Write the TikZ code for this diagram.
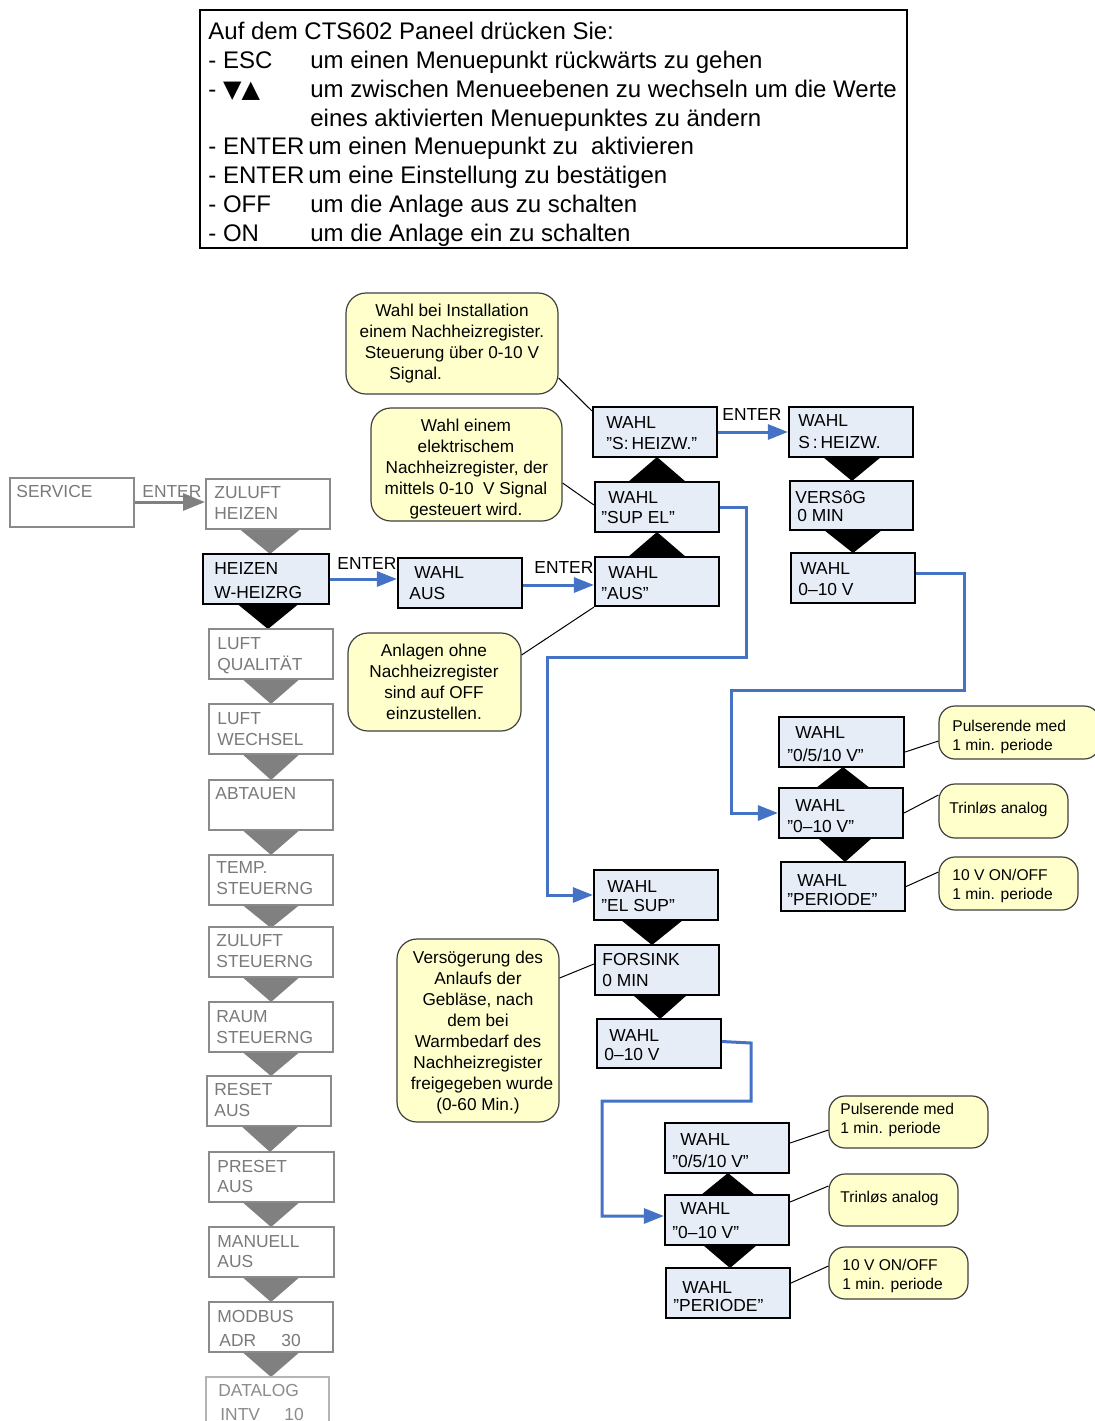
\documentclass[tikz,border=0pt]{standalone}
\usepackage{fontspec}
\setmainfont{Liberation Sans}
\newfontfamily\symfont{DejaVu Sans}
\usetikzlibrary{arrows.meta,fit}

\definecolor{boxblue}{HTML}{E6EDF7}
\definecolor{linkblue}{HTML}{4472C4}
\definecolor{notefill}{HTML}{FFFFCC}
\definecolor{greyline}{HTML}{8A8A8A}
\definecolor{greytext}{HTML}{7A7A7A}
\definecolor{greytri}{HTML}{808080}
\definecolor{paleline}{HTML}{B4B4B4}
\definecolor{paletext}{HTML}{8C8C8C}

\tikzset{
  menufont/.style={font=\fontsize{8.7}{10}\selectfont},
  notefont/.style={font=\fontsize{8.6}{10}\selectfont},
  smallfont/.style={font=\fontsize{7.8}{9}\selectfont},
  headfont/.style={font=\fontsize{12}{14}\selectfont},
  greybox/.style={draw=greyline, line width=1pt, fill=white, inner sep=0pt},
  palebox/.style={draw=paleline, line width=0.9pt, fill=white, inner sep=0pt},
  activebox/.style={draw=black, line width=1.1pt, fill=boxblue, inner sep=0pt},
  notebox/.style={draw=black!75, line width=0.6pt, fill=notefill, rounded corners=10pt, inner sep=0pt},
  smallnote/.style={notebox, rounded corners=8pt},
  headbox/.style={draw=black, line width=1pt, fill=white, inner sep=0pt},
  txt/.style={anchor=base west, inner sep=0pt, menufont},
  greytxt/.style={txt, text=greytext},
  paletxt/.style={txt, text=paletext},
  notetxt/.style={anchor=base, inner sep=0pt, notefont},
  smalltxt/.style={anchor=base west, inner sep=0pt, smallfont},
  headtxt/.style={anchor=base west, inner sep=0pt, headfont},
  link/.style={draw=linkblue, line width=1.5pt, -{Triangle[length=10pt,width=7.5pt]}},
  greylink/.style={draw=greytri, line width=1.5pt, -{Triangle[length=11pt,width=8.5pt]}},
  leader/.style={draw=black, line width=0.5pt},
  greytri/.style={fill=greytri},
  blacktri/.style={fill=black},
}

% box from (x1,y1) to (x2,y2)
\newcommand\menubox[6]{\node[#6, fit={(#2,#3) (#4,#5)}] (#1) {};}
% two text lines inside a box: name, x, y, text, y, text, style
\newcommand\twolines[7]{%
  \node[#7] (#1-a) at (#2,#3) {#4};
  \node[#7] (#1-b) at (#2,#5) {#6};}
% two text lines with their own x: name, x1, y1, text1, x2, y2, text2
\newcommand\wahllines[7]{%
  \node[txt] (#1-a) at (#2,#3) {#4};
  \node[txt] (#1-b) at (#5,#6) {#7};}
% triangle: centre x, base y, apex y, half width
\newcommand\arrowtri[5]{\fill[#5] (#1-#4,#2) -- (#1+#4,#2) -- (#1,#3) -- cycle;}

\begin{document}
\begin{tikzpicture}[x=0.5pt,y=-0.5pt]
\useasboundingbox (0,0) rectangle (1095,1421);
\clip (0,0) rectangle (1095,1421);

% ---------- key legend ----------
\menubox{legend}{200}{10}{907}{248}{headbox}
\node[headtxt] (h1) at (208,39.6) {Auf dem CTS602 Paneel drücken Sie:};
\node[headtxt] (h2) at (208,68.6) {- ESC};
\node[headtxt] (h2b) at (310,68.6) {um einen Menuepunkt rückwärts zu gehen};
\node[headtxt] (h3) at (208,97.6) {- {\symfont\fontsize{12}{14}\selectfont ▼▲}};
\node[headtxt] (h3b) at (310,97.6) {um zwischen Menueebenen zu wechseln um die Werte};
\node[headtxt] (h4b) at (310,126.6) {eines aktivierten Menuepunktes zu ändern};
\node[headtxt] (h5) at (208,154.6) {- ENTER};
\node[headtxt] (h5b) at (308,154.6) {um einen Menuepunkt zu\ \ aktivieren};
\node[headtxt] (h6) at (208,183.6) {- ENTER};
\node[headtxt] (h6b) at (308,183.6) {um eine Einstellung zu bestätigen};
\node[headtxt] (h7) at (208,212.6) {- OFF};
\node[headtxt] (h7b) at (310,212.6) {um die Anlage aus zu schalten};
\node[headtxt] (h8) at (208,241.6) {- ON};
\node[headtxt] (h8b) at (310,241.6) {um die Anlage ein zu schalten};

% ---------- service menu column ----------
\arrowtri{270}{527}{554}{33}{greytri}
\arrowtri{268}{602}{629}{33}{blacktri}
\arrowtri{271}{677}{704}{31}{greytri}
\arrowtri{271}{752}{780}{31}{greytri}
\arrowtri{271}{828}{855}{31}{greytri}
\arrowtri{271}{903}{928}{31}{greytri}
\arrowtri{271}{975}{1002}{31}{greytri}
\arrowtri{271}{1050}{1076}{31}{greytri}
\arrowtri{270}{1124}{1152}{31}{greytri}
\arrowtri{271}{1200}{1227}{31}{greytri}
\arrowtri{271}{1275}{1302}{31}{greytri}
\arrowtri{271}{1350}{1377}{31}{greytri}

\menubox{srv}{10}{478}{134}{527}{greybox}
\node[greytxt] (srv-a) at (16,497) {SERVICE};
\menubox{zh}{206}{479}{330}{529}{greybox}
\twolines{zh}{214}{498}{ZULUFT}{519}{HEIZEN}{greytxt}
\menubox{hei}{203}{554}{329}{604}{activebox}
\twolines{hei}{214}{574}{HEIZEN}{598}{W-HEIZRG}{txt}
\menubox{lq}{209}{629}{333}{679}{greybox}
\twolines{lq}{217}{649}{LUFT}{670}{QUALITÄT}{greytxt}
\menubox{lw}{209}{704}{333}{754}{greybox}
\twolines{lw}{217}{724}{LUFT}{745}{WECHSEL}{greytxt}
\menubox{ab}{209}{780}{333}{830}{greybox}
\node[greytxt] (ab-a) at (215,799) {ABTAUEN};
\menubox{ts}{209}{855}{333}{905}{greybox}
\twolines{ts}{216}{873}{TEMP.}{894}{STEUERNG}{greytxt}
\menubox{zs}{209}{927}{333}{977}{greybox}
\twolines{zs}{216}{946}{ZULUFT}{967}{STEUERNG}{greytxt}
\menubox{rs}{209}{1002}{333}{1052}{greybox}
\twolines{rs}{216}{1022}{RAUM}{1043}{STEUERNG}{greytxt}
\menubox{re}{207}{1076}{331}{1126}{greybox}
\twolines{re}{214}{1095}{RESET}{1116}{AUS}{greytxt}
\menubox{pr}{209}{1152}{334}{1202}{greybox}
\twolines{pr}{217}{1172}{PRESET}{1192}{AUS}{greytxt}
\menubox{ma}{209}{1227}{334}{1277}{greybox}
\twolines{ma}{217}{1247}{MANUELL}{1267}{AUS}{greytxt}
\menubox{mo}{209}{1302}{333}{1352}{greybox}
\node[greytxt] (mo-a) at (217,1322) {MODBUS};
\node[greytxt] (mo-b) at (219,1346) {ADR};
\node[greytxt] (mo-c) at (281,1346) {30};
\menubox{da}{206}{1377}{329}{1445}{palebox}
\node[paletxt] (da-a) at (218,1396) {DATALOG};
\node[paletxt] (da-b) at (220,1420) {INTV};
\node[paletxt] (da-c) at (284,1420) {10};

\draw[greylink] (srv.east |- 0,502) -- (zh.west |- 0,502);
\node[greytxt] (ent0) at (142,497) {ENTER};

% ---------- heating register selection ----------
\arrowtri{657}{557}{532}{29}{blacktri}
\arrowtri{657}{482}{457}{29}{blacktri}
\arrowtri{852}{457}{481}{29}{blacktri}
\arrowtri{853}{530}{553}{29}{blacktri}

\menubox{wa}{398}{558}{522}{608}{activebox}
\wahllines{wa}{414}{578}{WAHL}{409}{599}{AUS}
\menubox{aus}{595}{557}{719}{606}{activebox}
\wahllines{aus}{608}{578}{WAHL}{601}{599}{”AUS”}
\menubox{sup}{595}{482}{719}{532}{activebox}
\wahllines{sup}{608}{503}{WAHL}{601}{523}{”SUP EL”}
\menubox{sh}{593}{407}{717}{457}{activebox}
\wahllines{sh}{606}{428}{WAHL}{606}{449}{”S:\,HEIZW.”}
\menubox{shw}{789}{407}{913}{457}{activebox}
\wahllines{shw}{798}{426}{WAHL}{798}{448}{S\,:\,HEIZW.}
\menubox{vg}{790}{481}{913}{530}{activebox}
\wahllines{vg}{795}{503}{VERSôG}{797}{521}{0 MIN}
\menubox{wv}{791}{553}{915}{603}{activebox}
\wahllines{wv}{800}{574}{WAHL}{798}{595}{0–10 V}

\draw[link] (hei.east) -- (hei.east -| wa.west);
\node[txt] (ent1) at (337,569) {ENTER};
\draw[link] ([yshift=-1pt]wa.east) -- ([yshift=-1pt]wa.east -| aus.west);
\node[txt] (ent2) at (534,573) {ENTER};
\draw[link] (sh.east) -- (shw.west);
\node[txt] (ent3) at (722,420) {ENTER};

% ---------- signal type, upper group ----------
\arrowtri{843}{788}{767}{27}{blacktri}
\arrowtri{845}{838}{862}{27}{blacktri}
\menubox{ra}{779}{717}{904}{767}{activebox}
\wahllines{ra}{795}{738}{WAHL}{787}{761}{”0/5/10 V”}
\menubox{rb}{779}{788}{903}{838}{activebox}
\wahllines{rb}{795}{811}{WAHL}{787}{832}{”0–10 V”}
\menubox{rc}{781}{862}{905}{911}{activebox}
\wahllines{rc}{797}{886}{WAHL}{787}{905}{”PERIODE”}

\draw[link] ([yshift=2.5pt]wv.east) -- (964,573) |- (731,690) |- (rb.west);

% ---------- electric register branch ----------
\arrowtri{652}{920}{945}{31}{blacktri}
\arrowtri{660}{995}{1019}{27}{blacktri}
\menubox{es}{594}{870}{718}{920}{activebox}
\wahllines{es}{607}{892}{WAHL}{601}{911}{”EL SUP”}
\menubox{fs}{595}{945}{719}{995}{activebox}
\wahllines{fs}{602}{965}{FORSINK}{602}{986}{0 MIN}
\menubox{we}{597}{1019}{721}{1068}{activebox}
\wahllines{we}{609}{1041}{WAHL}{604}{1060}{0–10 V}

\draw[link] (sup.east) -- (746,507) |- (547,657) |- (es.west);

% ---------- signal type, lower group ----------
\arrowtri{728}{1195}{1173}{27}{blacktri}
\arrowtri{730}{1245}{1268}{27}{blacktri}
\menubox{ba}{665}{1123}{789}{1173}{activebox}
\wahllines{ba}{680}{1145}{WAHL}{672}{1167}{”0/5/10 V”}
\menubox{bb}{665}{1195}{789}{1245}{activebox}
\wahllines{bb}{680}{1214}{WAHL}{672}{1238}{”0–10 V”}
\menubox{bc}{666}{1268}{790}{1318}{activebox}
\wahllines{bc}{682}{1293}{WAHL}{673}{1311}{”PERIODE”}

\draw[link] ([yshift=1pt]we.east) -- (751,1043) |- (602,1101) |- ([yshift=2pt]bb.west);

% ---------- explanatory notes ----------
\menubox{n1}{346}{293}{558}{394}{notebox}
\node[notetxt] (n1-a) at (452,316) {Wahl bei Installation};
\node[notetxt] (n1-b) at (452,337) {einem Nachheizregister.};
\node[notetxt] (n1-c) at (452,358) {Steuerung über 0-10 V};
\node[notetxt, anchor=base west] (n1-d) at (389,379) {Signal.};

\menubox{n2}{371}{408}{562}{521}{notebox}
\node[notetxt] (n2-a) at (466,431) {Wahl einem};
\node[notetxt] (n2-b) at (466,452) {elektrischem};
\node[notetxt] (n2-c) at (467,473) {Nachheizregister,\ der};
\node[notetxt] (n2-d) at (466,494) {mittels 0-10\ \ V Signal};
\node[notetxt] (n2-e) at (466,515) {gesteuert wird.};

\menubox{n3}{348}{633}{521}{731}{notebox}
\node[notetxt] (n3-a) at (434,656) {Anlagen ohne};
\node[notetxt] (n3-b) at (434,677) {Nachheizregister};
\node[notetxt] (n3-c) at (434,698) {sind auf OFF};
\node[notetxt] (n3-d) at (434,719) {einzustellen.};

\menubox{n4}{397}{939}{559}{1122}{notebox}
\node[notetxt] (n4-a) at (478,963) {Versögerung des};
\node[notetxt] (n4-b) at (478,984) {Anlaufs der};
\node[notetxt] (n4-c) at (478,1005) {Gebläse, nach};
\node[notetxt] (n4-d) at (478,1026) {dem bei};
\node[notetxt] (n4-e) at (478,1047) {Warmbedarf des};
\node[notetxt] (n4-f) at (478,1068) {Nachheizregister};
\node[notetxt] (n4-g) at (482,1089) {freigegeben wurde};
\node[notetxt] (n4-h) at (478,1110) {(0-60 Min.)};

\menubox{s1}{939}{706}{1100}{759}{smallnote}
\twolines{s1}{952}{731.5}{Pulserende med}{750.5}{1 min. periode}{smalltxt}
\menubox{s2}{939}{784}{1068}{838}{smallnote}
\node[smalltxt] (s2-a) at (949,813.5) {Trinløs analog};
\menubox{s3}{939}{857}{1078}{910}{smallnote}
\twolines{s3}{952}{880.5}{10 V ON/OFF}{899.5}{1 min. periode}{smalltxt}

\menubox{s4}{829}{1096}{988}{1148}{smallnote}
\twolines{s4}{840}{1114.5}{Pulserende med}{1133.5}{1 min. periode}{smalltxt}
\menubox{s5}{829}{1174}{958}{1226}{smallnote}
\node[smalltxt] (s5-a) at (840,1202.5) {Trinløs analog};
\menubox{s6}{829}{1247}{968}{1299}{smallnote}
\twolines{s6}{842}{1270.5}{10 V ON/OFF}{1289.5}{1 min. periode}{smalltxt}

% ---------- note leaders ----------
\draw[leader] ([yshift=-17.25pt]n1.east) -- ([yshift=-2.5pt]sh.north west);
\draw[leader] ([yshift=-9.25pt]n2.east) -- ([yshift=1pt]sup.west);
\draw[leader] ([yshift=13.5pt]n3.east) -- (aus.south west);
\draw[leader] ([yshift=26.25pt]n4.east) -- ([yshift=3pt]fs.west);
\draw[leader] ([yshift=-5pt]ra.east) -- ([yshift=-4.25pt]s1.west);
\draw[leader] (rb.east) -- ([yshift=8pt]s2.west);
\draw[leader] (rc.east) -- ([yshift=5.75pt]s3.west);
\draw[leader] ([yshift=2.5pt]ba.east) -- ([yshift=-4pt]s4.west);
\draw[leader] ([yshift=9pt]bb.east) -- ([yshift=7pt]s5.west);
\draw[leader] ([yshift=5pt]bc.east) -- ([yshift=3.5pt]s6.west);
\end{tikzpicture}
\end{document}
